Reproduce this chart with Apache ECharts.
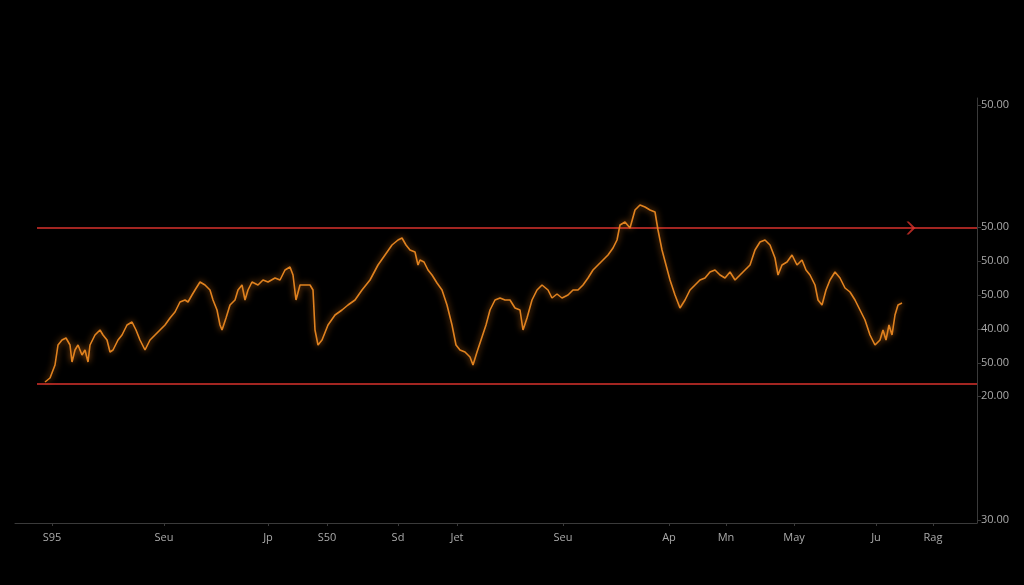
<!DOCTYPE html>
<html>
<head>
<meta charset="utf-8">
<script src="https://cdn.jsdelivr.net/npm/echarts@6/dist/echarts.min.js"></script>
<style>html,body{margin:0;background:#000;}#main{width:1024px;height:585px;}</style>
</head>
<body>
<div id="main"></div>
<script>
// x / y positions (y axis is inverted, values grow downward)
var priceX = [45,50,55,58,62,66,70,72,75,78,82,85,88,90,95,100,103,107,110,113,118,122,127,132,136,140,145,150,155,160,165,170,175,180,185,188,192,195,200,205,210,213,217,220,222,226,230,235,238,242,245,248,252,258,263,268,275,280,285,290,293,296,300,305,310,313,315,318,322,328,335,342,348,355,362,370,378,385,392,398,402,406,410,415,418,420,424,428,432,437,442,447,452,456,460,465,470,473,477,481,486,490,495,500,505,510,515,520,523,527,532,537,542,548,552,557,562,568,573,578,583,588,593,598,603,608,613,617,620,625,630,635,640,645,650,655,658,662,666,670,675,680,685,690,695,700,705,710,715,720,725,730,735,740,745,750,755,760,765,770,775,778,782,787,792,797,802,806,810,815,818,822,826,830,835,840,845,850,855,860,865,870,875,880,883,886,889,892,895,898,902];
var priceY = [382,378,365,345,340,338,345,362,350,345,355,350,362,345,335,330,335,340,352,350,340,335,325,322,330,340,350,340,335,330,325,318,312,302,300,302,295,290,282,285,290,300,310,325,330,318,305,300,290,285,300,290,282,285,280,282,278,280,270,267,275,300,285,285,285,290,330,345,340,325,315,310,305,300,290,280,265,255,245,240,238,245,250,252,265,260,262,270,275,283,290,305,325,345,350,352,357,365,352,340,325,310,300,298,300,300,308,310,330,318,300,290,285,290,298,294,298,295,290,290,285,278,270,265,260,255,248,240,225,222,228,210,205,207,210,212,230,250,265,280,295,308,300,290,285,280,278,272,270,275,278,272,280,275,270,265,250,242,240,245,258,275,265,262,255,265,260,270,275,285,300,305,290,280,272,278,288,292,300,310,320,335,345,340,330,340,325,335,315,305,303];
var yTickPos = [105,227,261,295,329,363,396,520];
var yTickText = ['50.00','50.00','50.00','50.00','40.00','50.00','20.00','30.00'];
var xTickPos = [52,164,268,327,398,457,563,669,726,794,876,933];
var xTickText = ['S95','Seu','Jp','S50','Sd','Jet','Seu','Ap','Mn','May','Ju','Rag'];
var upperLine = 228;
var lowerLine = 384;

var points = priceX.map(function (x, i) { return [x, priceY[i]]; });
var chart = echarts.init(document.getElementById('main'));
var red = '#d8322c';
chart.setOption({
    backgroundColor: '#000',
    animation: false,
    grid: { left: 15, right: 47, top: 98, bottom: 62 },
    xAxis: {
        type: 'value', min: 15, max: 977,
        splitLine: { show: false },
        axisLine: { lineStyle: { color: '#3a3a3a' } },
        axisTick: { customValues: xTickPos, lineStyle: { color: '#3a3a3a' }, length: 3 },
        axisLabel: {
            customValues: xTickPos, color: '#aaa', fontSize: 11, margin: 9,
            fontFamily: 'Open Sans',
            formatter: function (v) { return xTickText[xTickPos.indexOf(v)]; }
        }
    },
    yAxis: {
        type: 'value', position: 'right', inverse: true, min: 98, max: 523,
        splitLine: { show: false },
        axisLine: { show: true, lineStyle: { color: '#3a3a3a' } },
        axisTick: { customValues: yTickPos, lineStyle: { color: '#3a3a3a' }, length: 4 },
        axisLabel: {
            customValues: yTickPos, color: '#aaa', fontSize: 11, margin: 4,
            fontFamily: 'Open Sans',
            formatter: function (v) { return yTickText[yTickPos.indexOf(v)]; }
        }
    },
    series: [
        {
            type: 'line', data: [[37, upperLine], [977, upperLine]], symbol: 'none',
            lineStyle: { color: red, width: 1.5 }
        },
        {
            type: 'line', data: [[37, lowerLine], [977, lowerLine]], symbol: 'none',
            lineStyle: { color: red, width: 1.5 }
        },
        {
            type: 'scatter', data: [[911, upperLine]],
            symbol: 'path://M0,0 L3,0 L12,8 L3,16 L0,16 L8,8 Z', symbolSize: [9, 13],
            itemStyle: { color: red }
        },
        {
            type: 'line', data: points, symbol: 'none',
            lineStyle: { color: '#e0821f', width: 1.6, shadowColor: 'rgba(240,130,30,0.8)', shadowBlur: 6 }
        }
    ]
});
</script>
</body>
</html>
